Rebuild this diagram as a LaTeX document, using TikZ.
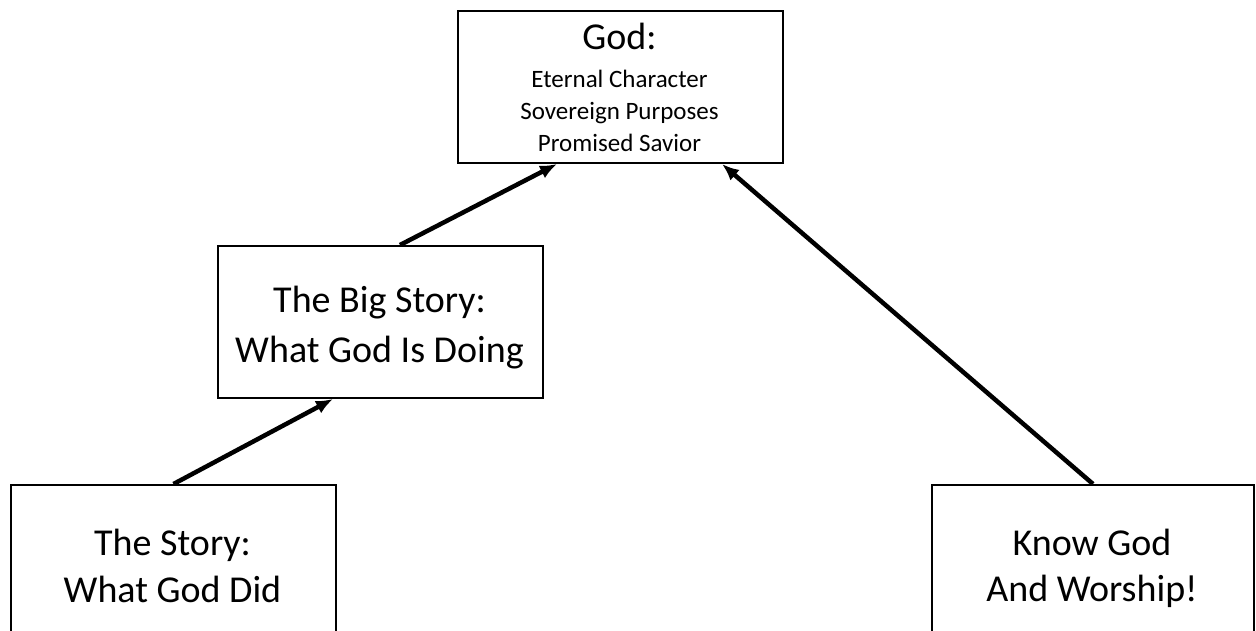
\documentclass[tikz,border=0pt]{standalone}
\usepackage{fontspec}
\setmainfont{Carlito}
\usetikzlibrary{arrows.meta,calc}
\begin{document}
\begin{tikzpicture}[x=1pt,y=-1pt,
  box/.style={draw=black,line width=2pt,rectangle,inner sep=0pt,anchor=north west},
  bigtxt/.style={font=\fontsize{38}{46}\selectfont,anchor=base,inner sep=0pt},
  smalltxt/.style={font=\fontsize{25}{30}\selectfont,anchor=base,inner sep=0pt},
  conn/.style={line width=4.5pt,-{Latex[length=17pt,width=14pt]}}]
\useasboundingbox (0,0) rectangle (1256,631);
\clip (0,0) rectangle (1256,631);
\fill[white] (0,0) rectangle (1256,631);
% boxes
\node[box,minimum width=325pt,minimum height=152pt] (god) at (457,10) {};
\node[box,minimum width=325pt,minimum height=152pt] (big) at (217,245) {};
\node[box,minimum width=325pt,minimum height=200pt] (story) at (10,484) {};
\node[box,minimum width=322pt,minimum height=200pt] (know) at (931,484) {};
% texts
\node[bigtxt] (g1) at (619.5,50) {God:};
\node[smalltxt] (g2) at (619.5,88) {Eternal Character};
\node[smalltxt] (g3) at (619.5,120) {Sovereign Purposes};
\node[smalltxt] (g4) at (619.5,152) {Promised Savior};
\node[bigtxt] (b1) at (379.5,312) {The Big Story:};
\node[bigtxt] (b2) at (379.5,362) {What God Is Doing};
\node[bigtxt] (s1) at (172.5,555) {The Story:};
\node[bigtxt] (s2) at (172.5,602) {What God Did};
\node[bigtxt] (k1) at (1092,555) {Know God};
\node[bigtxt] (k2) at (1092,601) {And Worship!};
% connectors
\draw[conn] (story.north) -- ($(big.south west)+(116,0)$);
\draw[conn] ($(big.north west)+(183,0)$) -- ($(god.south west)+(100,0)$);
\draw[conn] (know.north) -- ($(god.south west)+(265,0)$);
\end{tikzpicture}
\end{document}
